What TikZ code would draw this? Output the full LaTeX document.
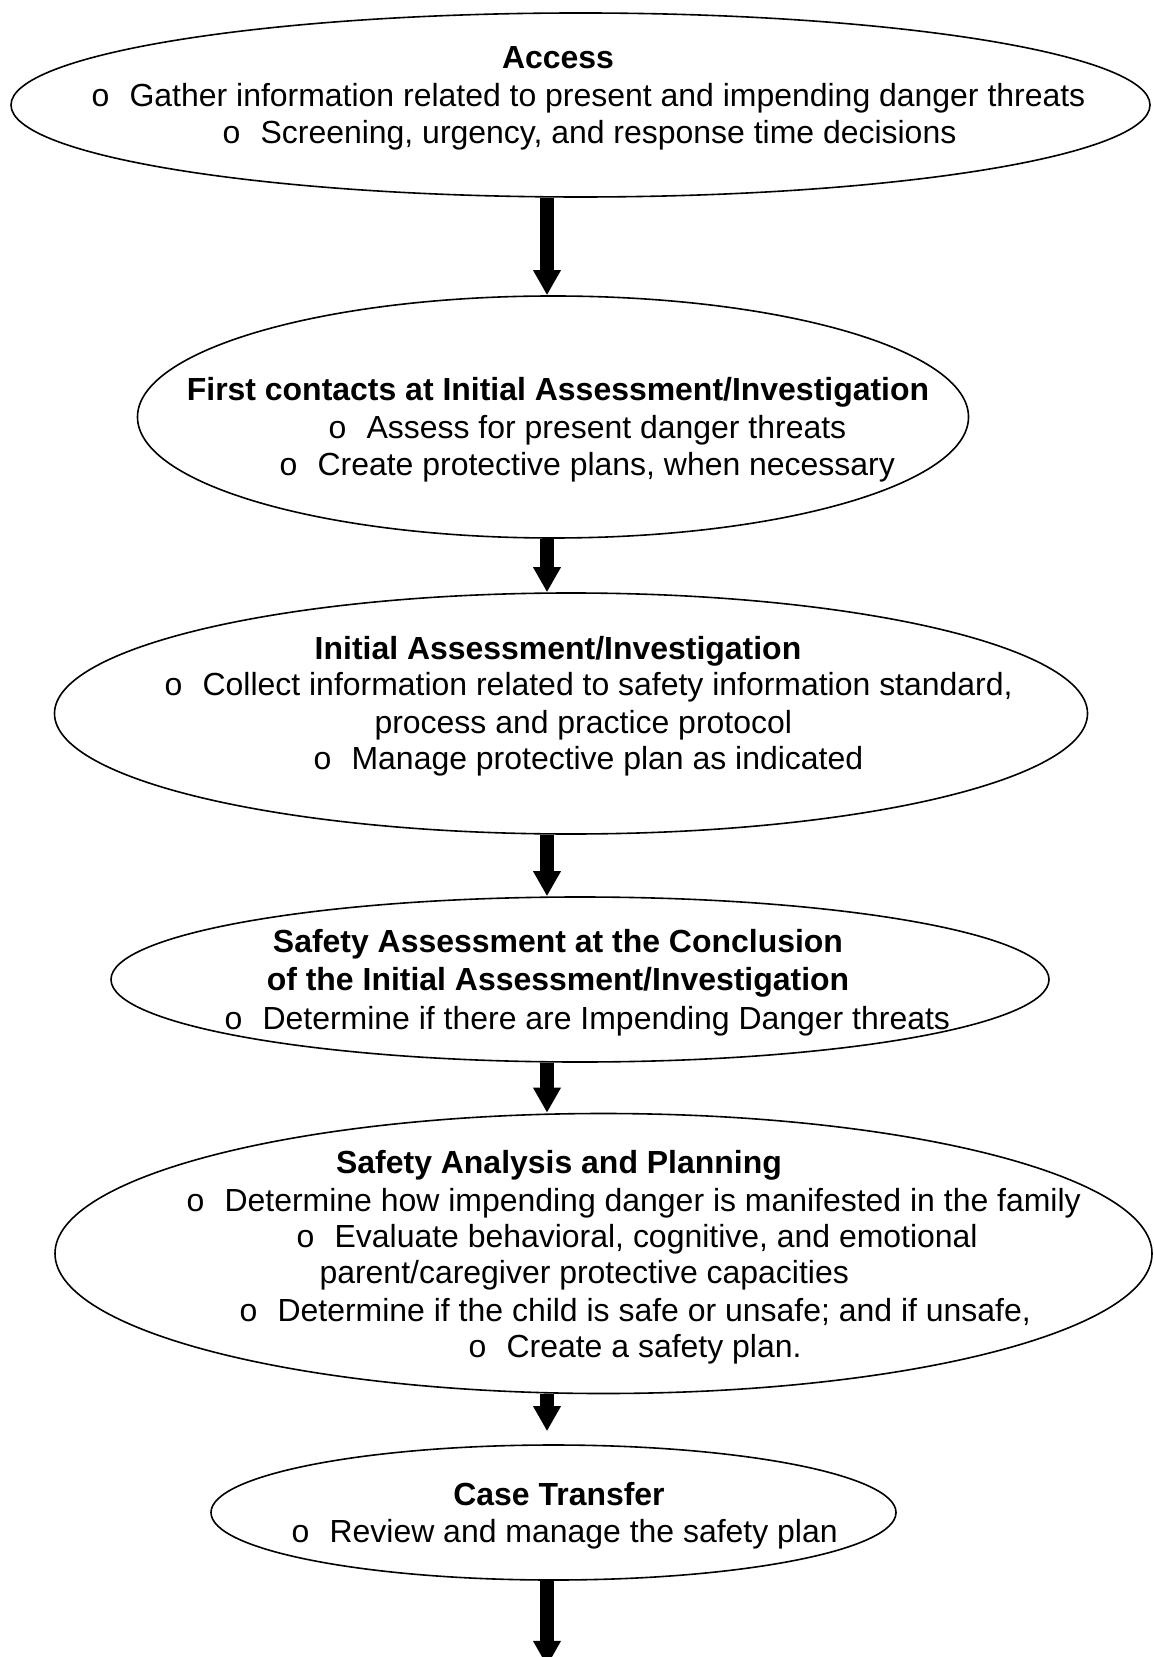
\documentclass[tikz,border=0pt]{standalone}
\usepackage{fontspec}
\setmainfont{Liberation Sans}
\usetikzlibrary{shapes.geometric,arrows.meta}

\newcommand{\pxu}{0.3755pt}
\newcommand{\bul}{\makebox[14.3pt][l]{o}}
\tikzset{
  stage/.style={draw, ellipse, line width=0.6pt, inner sep=0pt},
  item/.style={font=\fontsize{12}{13.8}\selectfont, inner sep=0pt, anchor=base west},
  head/.style={font=\fontsize{12}{13.8}\selectfont\bfseries, inner sep=0pt, anchor=base},
  flow/.style={line width=4.9pt, -{Triangle[length=9.4pt 0 0, width=9.8pt 0 0]}}
}

\begin{document}
\begin{tikzpicture}[x=\pxu, y=-\pxu]
    \useasboundingbox (0,0) rectangle (1153,1657);
    \node[stage, minimum width=1139*\pxu, minimum height=184*\pxu] (access) at (580.5,105) {};
    \node[stage, minimum width=831*\pxu, minimum height=242*\pxu] (contacts) at (553,417) {};
    \node[stage, minimum width=1033*\pxu, minimum height=241*\pxu] (initial) at (571,713.5) {};
    \node[stage, minimum width=938*\pxu, minimum height=165*\pxu] (conclusion) at (580,979.5) {};
    \node[stage, minimum width=1097*\pxu, minimum height=280*\pxu] (analysis) at (603.5,1253.5) {};
    \node[stage, minimum width=685*\pxu, minimum height=135*\pxu] (transfer) at (553.5,1512.5) {};
    \coordinate (spine) at (547,0);
    \coordinate (exit) at (547,1666);

    \node[head] (accessT) at (558,69) {Access};
    \node[item] (accessA) at (91,107) {\bul Gather information related to present and impending danger threats};
    \node[item] (accessB) at (222,144) {\bul Screening, urgency, and response time decisions};

    \node[head] (contactsT) at (558,401) {First contacts at Initial Assessment/Investigation};
    \node[item] (contactsA) at (328,439) {\bul Assess for present danger threats};
    \node[item] (contactsB) at (279,476) {\bul Create protective plans, when necessary};

    \node[head] (initialT) at (558,659) {Initial Assessment/Investigation};
    \node[item] (initialA) at (164,696) {\bul Collect information related to safety information standard,};
    \node[item] (initialA2) at (374,733) {process and practice protocol};
    \node[item] (initialB) at (313,769) {\bul Manage protective plan as indicated};

    \node[head] (conclusionT) at (558,952) {Safety Assessment at the Conclusion};
    \node[head] (conclusionT2) at (558,990) {of the Initial Assessment/Investigation};
    \node[item] (conclusionA) at (224,1029) {\bul Determine if there are Impending Danger threats};

    \node[head] (analysisT) at (559,1173) {Safety Analysis and Planning};
    \node[item] (analysisA) at (186,1211) {\bul Determine how impending danger is manifested in the family};
    \node[item] (analysisB) at (296,1247) {\bul Evaluate behavioral, cognitive, and emotional};
    \node[item] (analysisB2) at (319,1283) {parent/caregiver protective capacities};
    \node[item] (analysisC) at (239,1321) {\bul Determine if the child is safe or unsafe; and if unsafe,};
    \node[item] (analysisD) at (468,1357) {\bul Create a safety plan.};

    \node[head] (transferT) at (559,1505) {Case Transfer};
    \node[item] (transferA) at (291,1542) {\bul Review and manage the safety plan};

    \draw[flow] (access.south -| spine) -- (contacts.north -| spine);
    \draw[flow] (contacts.south -| spine) -- (initial.north -| spine);
    \draw[flow] (initial.south -| spine) -- (conclusion.north -| spine);
    \draw[flow] (conclusion.south -| spine) -- (analysis.north -| spine);
    \draw[flow, shorten >=4.9pt] (analysis.south -| spine) -- (transfer.north -| spine);
    \draw[flow] (transfer.south -| spine) -- (exit);
\end{tikzpicture}
\end{document}
